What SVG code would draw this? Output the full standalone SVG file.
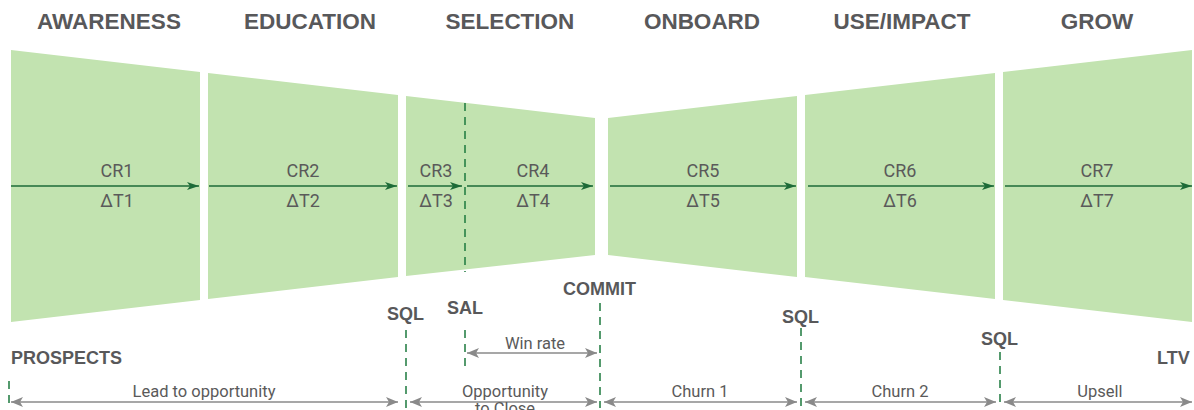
<svg xmlns="http://www.w3.org/2000/svg" width="1194" height="410" viewBox="0 0 1194 410">
<defs>
<marker id="ga" viewBox="0 0 12 8" refX="12" refY="4" markerWidth="12" markerHeight="8" markerUnits="userSpaceOnUse" orient="auto">
<path d="M0,0 L12,4 L0,8 L3,4 z" fill="#1d6b38"/>
</marker>
<marker id="gr" viewBox="0 0 12 10" refX="12" refY="5" markerWidth="12" markerHeight="10" markerUnits="userSpaceOnUse" orient="auto-start-reverse">
<path d="M0,0 L12,5 L0,10 L3,5 z" fill="#8a8a8a"/>
</marker>
<style>
.stage{fill:#c2e3b0}
.hdr{font-family:"Liberation Sans",Arial,sans-serif;font-weight:bold;font-size:22.5px;fill:#58585a;text-anchor:middle}
.lbl{font-family:Roboto,"Liberation Sans",sans-serif;font-size:18px;fill:#5a5a5a;text-anchor:middle}
.mk{font-family:"Liberation Sans",Arial,sans-serif;font-weight:bold;font-size:18px;fill:#58585a}
.sm{font-family:Roboto,"Liberation Sans",sans-serif;font-size:16.5px;fill:#5a5a5a;text-anchor:middle}
.flow{stroke:#1d6b38;stroke-width:1.6;fill:none;marker-end:url(#ga)}
.dash{stroke:#1d7a3e;stroke-width:1.5;stroke-dasharray:8 6;fill:none}
.dim{stroke:#8a8a8a;stroke-width:1.5;fill:none;marker-start:url(#gr);marker-end:url(#gr)}
</style>
</defs>

<g id="headers">
<text class="hdr" x="109" y="29">AWARENESS</text>
<text class="hdr" x="310" y="29">EDUCATION</text>
<text class="hdr" x="510" y="29">SELECTION</text>
<text class="hdr" x="702" y="29">ONBOARD</text>
<text class="hdr" x="902" y="29">USE/IMPACT</text>
<text class="hdr" x="1097" y="29">GROW</text>
</g>

<g id="stage1">
<polygon class="stage" points="11,50 200,72 200,300 11,322"/>
<text class="lbl" x="117" y="177">CR1</text>
<text class="lbl" x="117" y="207">ΔT1</text>
</g>
<g id="stage2">
<polygon class="stage" points="208,73 398,95 398,277 208,299"/>
<text class="lbl" x="303" y="177">CR2</text>
<text class="lbl" x="303" y="207">ΔT2</text>
</g>
<g id="stage3">
<polygon class="stage" points="406,96 595,118 595,255 406,276"/>
<text class="lbl" x="436" y="177">CR3</text>
<text class="lbl" x="436" y="207">ΔT3</text>
<text class="lbl" x="533" y="177">CR4</text>
<text class="lbl" x="533" y="207">ΔT4</text>
</g>
<g id="stage4">
<polygon class="stage" points="608,118 797,96 797,277 608,255"/>
<text class="lbl" x="703" y="177">CR5</text>
<text class="lbl" x="703" y="207">ΔT5</text>
</g>
<g id="stage5">
<polygon class="stage" points="805,95 995,73 995,299 805,277"/>
<text class="lbl" x="900" y="177">CR6</text>
<text class="lbl" x="900" y="207">ΔT6</text>
</g>
<g id="stage6">
<polygon class="stage" points="1003,72 1192,50 1192,322 1003,300"/>
<text class="lbl" x="1097" y="177">CR7</text>
<text class="lbl" x="1097" y="207">ΔT7</text>
</g>

<g id="markers">
<text class="mk" x="11" y="364">PROSPECTS</text>
<text class="mk" x="387" y="320">SQL</text>
<text class="mk" x="447" y="314">SAL</text>
<text class="mk" x="563" y="295">COMMIT</text>
<text class="mk" x="782" y="323">SQL</text>
<text class="mk" x="981" y="345">SQL</text>
<text class="mk" x="1157" y="364">LTV</text>
</g>

<g id="connectors">
<line class="flow" x1="11" y1="186" x2="199" y2="186"/>
<line class="flow" x1="209" y1="186" x2="397" y2="186"/>
<line class="flow" x1="408" y1="186" x2="462" y2="186"/>
<line class="flow" x1="467" y1="186" x2="593" y2="186"/>
<line class="flow" x1="610" y1="186" x2="796" y2="186"/>
<line class="flow" x1="808" y1="186" x2="994" y2="186"/>
<line class="flow" x1="1005" y1="186" x2="1192" y2="186"/>

<line class="dash" x1="465" y1="103" x2="465" y2="272"/>
<line class="dash" x1="9" y1="381" x2="9" y2="408"/>
<line class="dash" x1="406" y1="330" x2="406" y2="408"/>
<line class="dash" x1="465" y1="330" x2="465" y2="368"/>
<line class="dash" x1="600" y1="303" x2="600" y2="408"/>
<line class="dash" x1="801" y1="328" x2="801" y2="408"/>
<line class="dash" x1="1000" y1="352" x2="1000" y2="408"/>

<line class="dim" x1="11" y1="402" x2="398" y2="402"/>
<line class="dim" x1="410" y1="402" x2="597" y2="402"/>
<line class="dim" x1="604" y1="402" x2="797" y2="402"/>
<line class="dim" x1="805" y1="402" x2="996" y2="402"/>
<line class="dim" x1="1004" y1="402" x2="1192" y2="402"/>
<line class="dim" x1="467" y1="353" x2="597" y2="353"/>
</g>

<g id="dimension-labels">
<text class="sm" x="204" y="397">Lead to opportunity</text>
<text class="sm" x="505" y="397">Opportunity</text>
<text class="sm" x="505" y="414">to Close</text>
<text class="sm" x="700" y="397">Churn 1</text>
<text class="sm" x="900" y="397">Churn 2</text>
<text class="sm" x="1100" y="397">Upsell</text>
<text class="sm" x="535" y="349">Win rate</text>
</g>
</svg>
